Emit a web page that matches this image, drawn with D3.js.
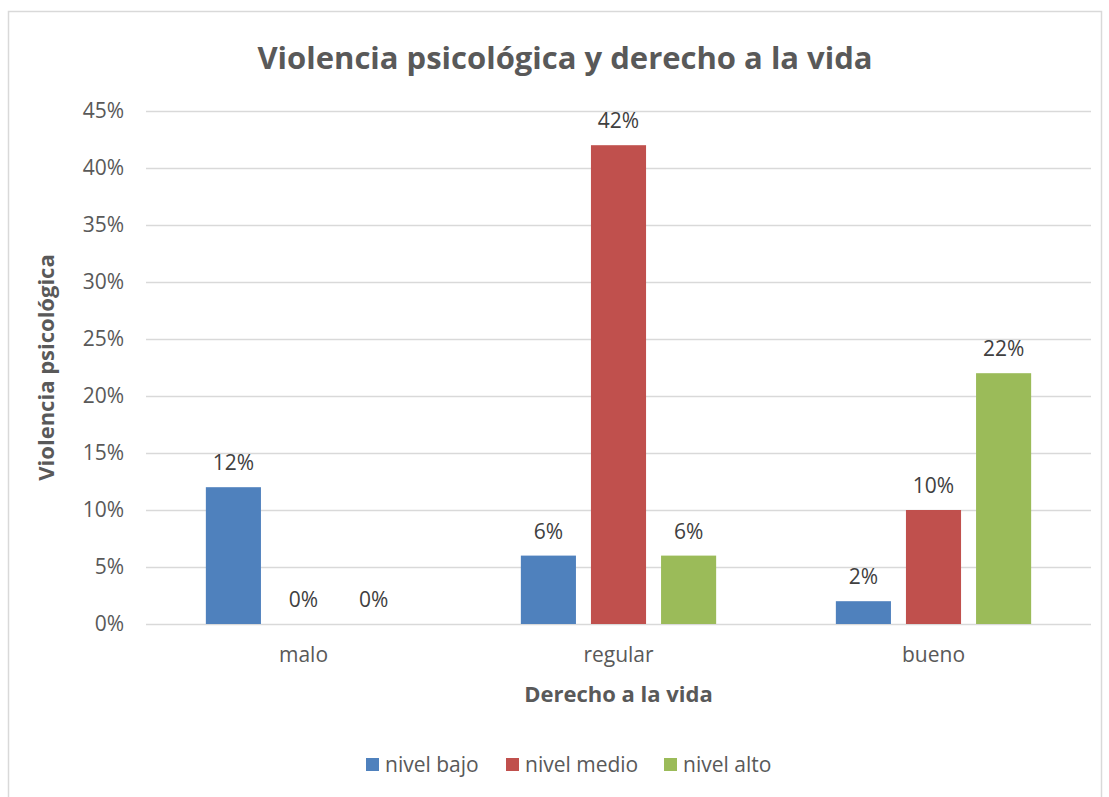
<!DOCTYPE html>
<html>
<head>
<meta charset="utf-8">
<script src="https://cdn.jsdelivr.net/npm/d3@7"></script>
<style>
  body { margin: 0; background: #fff; }
  text { font-family: "Open Sans", Lato, sans-serif; }
</style>
</head>
<body>
<div id="chart"></div>
<script>
var categories = ["malo", "regular", "bueno"];
var series = ["nivel bajo", "nivel medio", "nivel alto"];
var nivelBajo = [0.12, 0.06, 0.02];
var nivelMedio = [0.00, 0.42, 0.10];
var nivelAlto = [0.00, 0.06, 0.22];
var yTicks = [0, 0.05, 0.10, 0.15, 0.20, 0.25, 0.30, 0.35, 0.40, 0.45];
var colors = ["#4f81bd", "#c0504d", "#9bbb59"];

var values = [nivelBajo, nivelMedio, nivelAlto];
var data = categories.map(function(c, i) {
    return { cat: c, vals: series.map(function(s, j) { return { s: s, v: values[j][i] }; }) };
});

var W = 1109, H = 797;
var margin = {top: 111, right: 18, bottom: 173, left: 146},
    width = W - margin.left - margin.right,
    height = H - margin.top - margin.bottom;

var root = d3.select("#chart").append("svg")
    .attr("width", W)
    .attr("height", H);

// chart border
root.append("rect")
    .attr("x", 8.5).attr("y", 11.5)
    .attr("width", 1093).attr("height", 800)
    .attr("fill", "#fff")
    .attr("stroke", "#d9d9d9")
    .attr("stroke-width", 1.5);

var svg = root.append("g")
    .attr("transform", "translate(" + margin.left + "," + margin.top + ")");

var y = d3.scaleLinear().domain([0, 0.45]).range([height, 0]);
var x0 = d3.scaleBand().domain(categories).range([0, width]).padding(0);
var x1 = d3.scaleBand().domain(series)
    .range([x0.bandwidth() * 0.19, x0.bandwidth() * 0.81])
    .paddingInner(0.214).paddingOuter(0);

// gridlines + y labels
var yAxis = svg.append("g")
    .call(d3.axisLeft(y).tickValues(yTicks).tickSize(-width).tickFormat(d3.format(".0%")).tickPadding(22));
yAxis.select(".domain").remove();
yAxis.selectAll(".tick line").attr("stroke", "#d9d9d9").attr("stroke-width", 1.5);
yAxis.selectAll(".tick text").attr("fill", "#595959").style("font-size", "21px");

// category labels
var xAxis = svg.append("g")
    .attr("transform", "translate(0," + height + ")")
    .call(d3.axisBottom(x0).tickSize(0).tickPadding(23));
xAxis.select(".domain").remove();
xAxis.selectAll(".tick text").attr("fill", "#595959").style("font-size", "21px");

// bars
var groups = svg.selectAll(".grp")
    .data(data)
    .enter().append("g")
    .attr("class", "grp")
    .attr("transform", function(d) { return "translate(" + x0(d.cat) + ",0)"; });

groups.selectAll("rect")
    .data(function(d) { return d.vals; })
    .enter().append("rect")
    .attr("x", function(d) { return x1(d.s); })
    .attr("width", x1.bandwidth())
    .attr("y", function(d) { return y(d.v); })
    .attr("height", function(d) { return height - y(d.v); })
    .attr("fill", function(d, i) { return colors[i]; });

groups.selectAll(".lbl")
    .data(function(d) { return d.vals; })
    .enter().append("text")
    .attr("class", "lbl")
    .attr("x", function(d) { return x1(d.s) + x1.bandwidth() / 2; })
    .attr("y", function(d) { return y(d.v) - 17; })
    .attr("text-anchor", "middle")
    .attr("fill", "#404040")
    .style("font-size", "21px")
    .text(function(d) { return d3.format(".0%")(d.v); });

// title
root.append("text")
    .attr("x", 565).attr("y", 69)
    .attr("text-anchor", "middle")
    .attr("fill", "#595959")
    .style("font-size", "31px").style("font-weight", "bold")
    .text("Violencia psicológica y derecho a la vida");

// axis titles
root.append("text")
    .attr("x", margin.left + width / 2).attr("y", 702)
    .attr("text-anchor", "middle")
    .attr("fill", "#595959")
    .style("font-size", "22px").style("font-weight", "bold")
    .text("Derecho a la vida");

root.append("text")
    .attr("transform", "translate(54," + (margin.top + height / 2) + ") rotate(-90)")
    .attr("text-anchor", "middle")
    .attr("fill", "#595959")
    .style("font-size", "22px").style("font-weight", "bold")
    .text("Violencia psicológica");

// legend
var legX = [366, 506, 664];
var leg = root.selectAll(".leg")
    .data(series)
    .enter().append("g")
    .attr("class", "leg")
    .attr("transform", function(d, i) { return "translate(" + legX[i] + ",758)"; });
leg.append("rect")
    .attr("width", 13).attr("height", 13)
    .attr("fill", function(d, i) { return colors[i]; });
leg.append("text")
    .attr("x", 19).attr("y", 14)
    .attr("fill", "#595959")
    .style("font-size", "21px")
    .text(function(d) { return d; });
</script>
</body>
</html>
